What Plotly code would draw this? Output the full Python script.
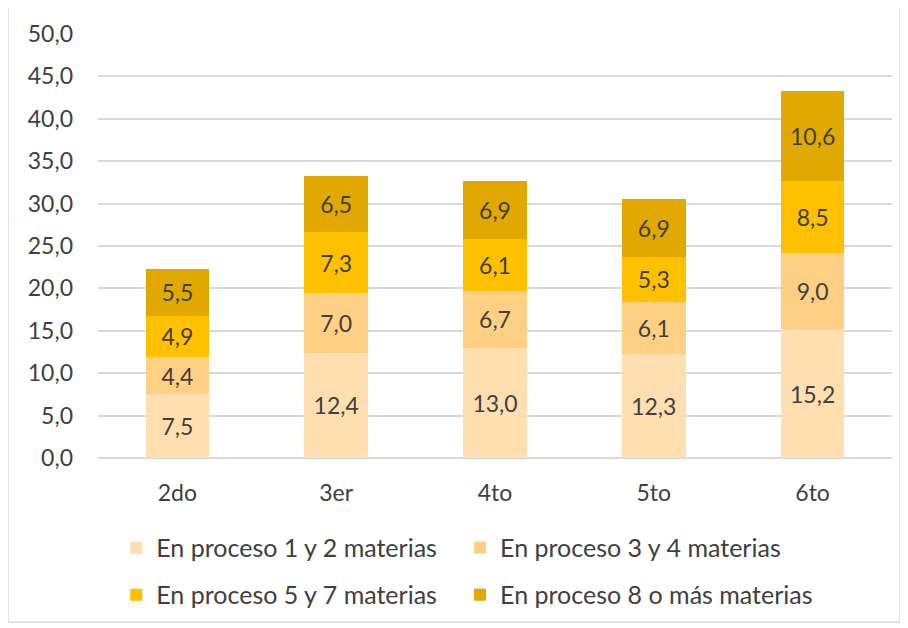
import plotly.graph_objects as go

categories = ["2do", "3er", "4to", "5to", "6to"]
series_names = [
    "En proceso 1 y 2 materias",
    "En proceso 3 y 4 materias",
    "En proceso 5 y 7 materias",
    "En proceso 8 o más materias",
]
s1 = [7.5, 12.4, 13.0, 12.3, 15.2]
s2 = [4.4, 7.0, 6.7, 6.1, 9.0]
s3 = [4.9, 7.3, 6.1, 5.3, 8.5]
s4 = [5.5, 6.5, 6.9, 6.9, 10.6]
y_ticks = [0, 5, 10, 15, 20, 25, 30, 35, 40, 45, 50]

colors = ["#FFDEB0", "#FFCF83", "#FFC000", "#E0A800"]
legend_ids = ["legend", "legend2", "legend3", "legend4"]
FONT = "Lato"
TXT = "#404040"

fig = go.Figure()
for name, vals, col, lg in zip(series_names, [s1, s2, s3, s4], colors, legend_ids):
    fig.add_trace(go.Bar(
        x=categories, y=vals, name=name, showlegend=True,
        marker=dict(color=col, line=dict(width=0)),
        texttemplate="%{y:.1f}", textposition="inside",
        insidetextanchor="middle", textangle=0,
        textfont=dict(family=FONT, size=23, color=TXT),
        legend=lg,
    ))

leg_pos = {"legend": (0.023, -0.212), "legend2": (0.456, -0.212),
           "legend3": (0.023, -0.323), "legend4": (0.456, -0.323)}
leg_layout = {}
for k, (lx, ly) in leg_pos.items():
    leg_layout[k] = dict(x=lx, y=ly, xanchor="left", yanchor="middle",
                         orientation="h", bgcolor="rgba(0,0,0,0)",
                         font=dict(family=FONT, size=25, color=TXT),
                         itemwidth=30, visible=True)

fig.update_layout(
    width=908, height=628,
    barmode="stack", bargap=0.6,
    separators=",.",
    paper_bgcolor="white", plot_bgcolor="white",
    margin=dict(l=90, r=24, t=26, b=178, autoexpand=False),
    font=dict(family=FONT, size=23, color=TXT),
    uniformtext=dict(minsize=23, mode="show"),
    shapes=[dict(type="rect", xref="paper", yref="paper",
                 x0=-0.1134, x1=1.0101, y0=-0.3868, y1=1.066,
                 line=dict(color="#D9D9D9", width=1.5), fillcolor="rgba(0,0,0,0)",
                 layer="below")],
    **leg_layout,
)
fig.update_xaxes(showgrid=False, showline=False, ticks="",
                 ticklabelstandoff=19,
                 tickfont=dict(family=FONT, size=23, color=TXT))
fig.update_yaxes(range=[0, 50], tickvals=y_ticks, tickformat=".1f",
                 showgrid=True, gridcolor="#D9D9D9", gridwidth=1.5,
                 zeroline=True, zerolinecolor="#D9D9D9", zerolinewidth=1.5,
                 showline=False, ticks="", ticklabelstandoff=24,
                 tickfont=dict(family=FONT, size=23, color=TXT))

fig.write_html("out.html")
